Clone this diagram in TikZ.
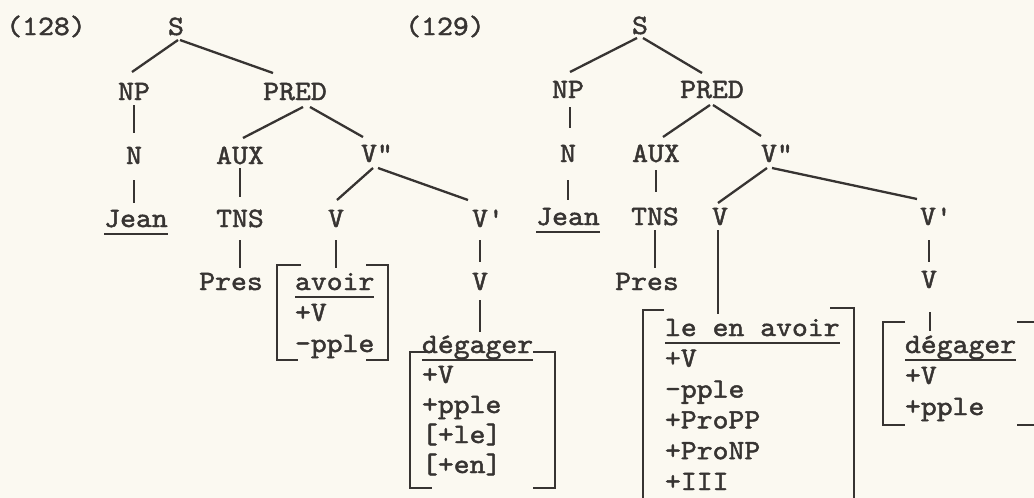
\documentclass[tikz,border=0pt]{standalone}
\usepackage{fontspec}
\newfontfamily\tw{lmmono10-regular.otf}[FakeStretch=1.08,FakeBold=1.6]
\usetikzlibrary{calc}
\definecolor{paper}{RGB}{251,249,241}
\definecolor{ink}{RGB}{55,52,50}
\newcommand{\ulw}[1]{{\setbox0\hbox{#1}\rlap{\rule[-8pt]{\wd0}{2pt}}\box0}}
\tikzset{
  lbl/.style={font=\tw\fontsize{28}{31}\selectfont, text=ink, inner sep=0pt, outer sep=0pt, anchor=base},
  bundle/.style={font=\tw\fontsize{28}{31}\selectfont, text=ink, inner sep=0pt, outer sep=0pt, anchor=base west},
  edge/.style={draw=ink, line width=2.3pt},
  brk/.style={draw=ink, line width=2.6pt, line join=miter}
}
\begin{document}
\begin{tikzpicture}[x=1pt,y=-1pt]
\clip (0,0) rectangle (1034,498);
\fill[paper] (0,0) rectangle (1034,498);

% ---------- (128) ----------
\node[lbl] (L1) at (46,35) {(128)};
\node[lbl] (S1) at (176,35) {S};
\node[lbl] (NP1) at (134,100) {NP};
\node[lbl] (PRED1) at (295,100) {PRED};
\node[lbl] (N1) at (134,164) {N};
\node[lbl] (AUX1) at (240,164) {AUX};
\node[lbl] (VPP1) at (377,162) {V"};
\node[lbl] (Jean1) at (136,227) {\ulw{Jean}};
\node[lbl] (TNS1) at (240,227) {TNS};
\node[lbl] (V1a) at (336,227) {V};
\node[lbl] (VP1) at (488,227) {V'};
\node[lbl] (Pres1) at (231,290) {Pres};
\node[lbl] (V1b) at (480,290) {V};
\node[bundle] (B1) at (295,290) {\begin{tabular}[t]{@{}l@{}}\ulw{avoir}\\+V\\-pple\end{tabular}};
\node[bundle, font=\tw\fontsize{28}{30}\selectfont] (B2) at (422,353) {\begin{tabular}[t]{@{}l@{}}\ulw{dégager}\\+V\\+pple\\{[}+le]\\{[}+en]\end{tabular}};

\draw[edge] ($(S1.base)+(2,5)$) -- ($(NP1.base)+(-2,-28)$);
\draw[edge] ($(S1.base)+(4,5)$) -- ($(PRED1.base)+(-22,-27)$);
\draw[edge] ($(NP1.base)+(0,5)$) -- ($(N1.base)+(0,-31)$);
\draw[edge] ($(N1.base)+(0,16)$) -- ($(Jean1.base)+(-2,-24)$);
\draw[edge] ($(PRED1.base)+(8,7)$) -- ($(AUX1.base)+(3,-26)$);
\draw[edge] ($(PRED1.base)+(15,7)$) -- ($(VPP1.base)+(-14,-25)$);
\draw[edge] ($(AUX1.base)+(0,4)$) -- ($(TNS1.base)+(0,-30)$);
\draw[edge] ($(TNS1.base)+(0,13)$) -- ($(Pres1.base)+(9,-22)$);
\draw[edge] ($(VPP1.base)+(-4,6)$) -- ($(V1a.base)+(1,-27)$);
\draw[edge] ($(VPP1.base)+(1,6)$) -- ($(VP1.base)+(-20,-27)$);
\draw[edge] ($(V1a.base)+(0,13)$) coordinate (t1) -- (t1 |- B1.north);
\draw[edge] ($(VP1.base)+(-8,13)$) -- ($(V1b.base)+(0,-28)$);
\draw[edge] ($(V1b.base)+(0,10)$) coordinate (t2) -- (t2 |- B2.north);

\draw[brk] (301,265) -| (277,360) -- (298,360);
\draw[brk] (366,265) -| (388,360) -- (366,360);
\draw[brk] (432,352) -| (410,488) -- (432,488);
\draw[brk] (533,352) -| (555,488) -- (533,488);

% ---------- (129) ----------
\node[lbl] (L2) at (445,35) {(129)};
\node[lbl] (S2) at (640,34) {S};
\node[lbl] (NP2) at (568,98) {NP};
\node[lbl] (PRED2) at (712,98) {PRED};
\node[lbl] (N2) at (568,162) {N};
\node[lbl] (AUX2) at (656,162) {AUX};
\node[lbl] (VPP2) at (777,162) {V"};
\node[lbl] (Jean2) at (568,225) {\ulw{Jean}};
\node[lbl] (TNS2) at (655,225) {TNS};
\node[lbl] (V2a) at (720,225) {V};
\node[lbl] (VP2) at (936,225) {V'};
\node[lbl] (Pres2) at (647,290) {Pres};
\node[lbl] (V2b) at (929,288) {V};
\node[bundle, font=\tw\fontsize{28}{30.8}\selectfont] (B3) at (665,336) {\begin{tabular}[t]{@{}l@{}}\ulw{le en avoir}\\+V\\-pple\\+ProPP\\+ProNP\\+III\end{tabular}};
\node[bundle] (B4) at (905,353) {\begin{tabular}[t]{@{}l@{}}\ulw{dégager}\\+V\\+pple\end{tabular}};

\draw[edge] ($(S2.base)+(-3,4)$) -- ($(NP2.base)+(2,-26)$);
\draw[edge] ($(S2.base)+(3,4)$) -- ($(PRED2.base)+(-10,-25)$);
\draw[edge] ($(NP2.base)+(2,9)$) -- ($(N2.base)+(2,-34)$);
\draw[edge] ($(N2.base)+(0,18)$) -- ($(Jean2.base)+(0,-25)$);
\draw[edge] ($(PRED2.base)+(-2,7)$) -- ($(AUX2.base)+(7,-25)$);
\draw[edge] ($(PRED2.base)+(1,7)$) -- ($(VPP2.base)+(-16,-26)$);
\draw[edge] ($(AUX2.base)+(0,8)$) -- ($(TNS2.base)+(1,-33)$);
\draw[edge] ($(VPP2.base)+(-10,6)$) -- ($(V2a.base)+(-2,-22)$);
\draw[edge] ($(VPP2.base)+(-5,6)$) -- ($(VP2.base)+(-19,-26)$);
\draw[edge] ($(TNS2.base)+(0,5)$) -- ($(Pres2.base)+(8,-22)$);
\draw[edge] ($(VP2.base)+(-7,15)$) -- ($(V2b.base)+(0,-26)$);
\draw[edge] ($(V2a.base)+(-2,5)$) coordinate (t3) -- (t3 |- B3.north);
\draw[edge] ($(V2b.base)+(1,24)$) coordinate (t4) -- (t4 |- B4.north);

\draw[brk] (664,310) -| (643,505);
\draw[brk] (830,308) -| (854,505);
\draw[brk] (905,322) -| (883,425) -- (905,425);
\draw[brk] (1017,322) -| (1040,425) -- (1017,425);
\end{tikzpicture}
\end{document}
